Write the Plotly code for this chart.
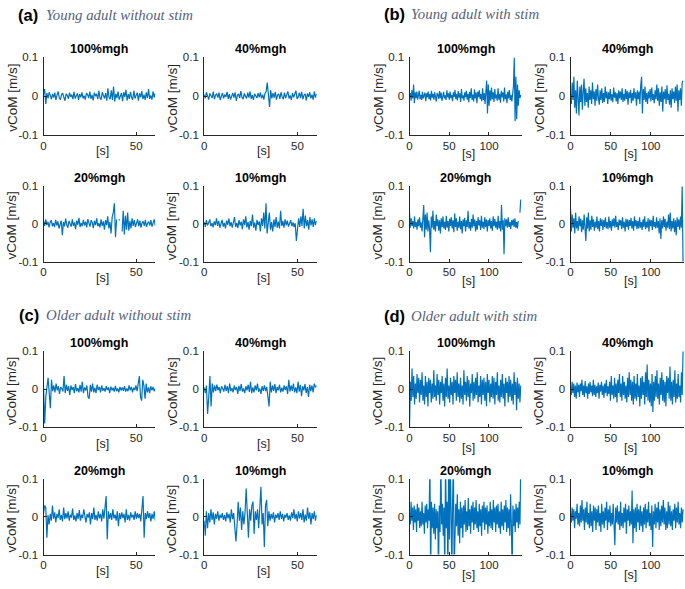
import numpy as np
import plotly.graph_objects as go

W, H = 685, 589

GROUP_LABELS = ["(a)", "(b)", "(c)", "(d)"]
GROUP_TITLES = ["Young adult without stim", "Young adult with stim",
                "Older adult without stim", "Older adult with stim"]
CONDITIONS = ["100%mgh", "40%mgh", "20%mgh", "10%mgh"]
DURATION_S = [60.3, 140, 60.3, 140]
X_MAX = [60.3, 141.2, 60.3, 141.2]
X_TICKS = [[0, 50], [0, 50, 100], [0, 50], [0, 50, 100]]
Y_TICKS = [-0.1, 0, 0.1]
Y_TICKTEXT = ["-0.1", "0", "0.1"]
X_LABEL = "[s]"
Y_LABEL = "vCoM [m/s]"

# vCoM values, in mm/s (None = gap in the record)
a_100 = [5,18,-20,8,-6,10,2,-8,6,-4,9,-10,3,12,-5,-9,4,8,-3,-12,6,2,-7,9,-2,4,-8,11,-6,3,7,-10,5,-3,10,-6,1,-9,8,4,-5,12,-7,3,-11,9,0,6,-8,14,-4,-9,10,2,-6,8,-12,20,-3,-8,15,-10,25,-14,6,-5,12,-9,3,8,-13,10,-2,16,-11,5,-7,11,-4,-9,14,-6,2,9,-12,7,-3,13,-8,4,-10,10,-5,18,-7,2,-9,12,-4,8]
a_40 = [4,-6,10,-3,-9,7,2,-5,12,-8,3,6,-4,9,-10,1,8,-6,4,-2,11,-7,5,-9,3,8,-4,10,-12,2,6,-5,13,-3,-8,7,0,-6,9,-4,12,-7,3,-10,6,2,-5,8,-3,10,-6,4,-9,7,12,35,-10,-28,15,-6,8,-4,11,-9,3,6,-7,10,-2,-8,9,-5,4,12,-6,2,-10,8,-3,5,14,-7,-2,9,-5,11,-8,3,6,-11,7,-2,10,-6,4,-9,12,-4,6]
a_20 = [8,-5,12,-3,6,-9,4,10,-6,2,-8,11,-4,7,-12,3,9,-30,5,-6,14,-3,-10,8,2,-7,12,-5,4,-14,9,-2,16,-8,3,-6,11,-4,6,-9,13,-2,-7,10,4,-11,8,-3,15,-6,2,-9,12,-5,7,-15,10,-3,20,-12,5,-25,18,30,55,-35,12,None,10,12,None,-20,35,-28,22,-15,30,-18,8,-12,15,-5,10,-8,4,12,-6,9,-10,3,7,-5,11,-8,2,6,-4,10,-7,3,12,-5]
a_10 = [5,-8,10,-4,3,12,-6,2,-9,7,-3,15,-5,8,-10,4,11,-7,3,-12,9,-2,14,-6,5,-10,7,18,-8,3,-11,10,-4,6,-14,12,-3,20,-9,5,-15,8,-6,25,-10,4,-18,11,-3,7,-20,15,-5,30,-12,55,-25,10,30,-15,5,-20,12,-8,18,-10,6,-12,35,-5,8,-10,12,-4,9,-7,3,10,-6,4,-8,2,-45,-10,15,-8,20,-5,40,-12,22,-6,10,-15,18,-4,12,-8,15,-3,8]

b_100 = [0,8,-12,15,-6,30,-18,10,-5,12,-9,4,14,-8,3,-10,11,-6,2,9,-13,7,-3,12,-8,5,-11,14,-4,6,-9,10,-2,-14,8,3,-7,13,-5,9,-12,4,11,-6,2,-10,15,-3,7,-9,12,-5,3,-13,10,-2,16,-8,5,-11,13,-4,7,-15,18,-6,2,-12,10,-3,14,-9,6,-16,11,-5,20,-10,4,-14,17,-6,9,-18,12,-3,15,-8,5,-13,20,-10,8,-20,25,40,-45,30,-25,15,-12,22,-8,10,-15,18,-6,4,-12,20,-9,6,-17,14,-3,10,-14,22,-8,5,-18,12,-6,16,-10,3,-14,8,25,100,-65,50,-60,30,-25,15,-5,3]
b_40 = [5,-20,35,-10,50,-30,15,-45,40,-20,-50,25,-15,30,-35,10,45,-25,20,-15,8,-30,25,-10,15,-20,35,-8,12,-25,18,-12,30,-5,-22,15,-10,20,-18,8,-15,25,-6,12,-20,10,-8,18,-12,5,-16,22,-4,10,-14,8,-20,15,-6,12,-10,20,-15,6,-12,18,-8,14,-22,10,-5,16,-18,8,-12,20,-6,10,-25,15,-8,12,-20,28,50,-45,18,-10,25,-15,8,-20,12,-6,18,-14,22,-10,5,-18,15,-8,30,-12,20,-25,10,-15,25,-40,12,-8,18,-20,28,-10,6,-22,15,-30,20,-8,12,-18,25,-12,30,-40,15,-10,20,-25,35,40]
b_20 = [30,-10,15,-5,8,-12,20,-8,5,-15,12,-6,18,-10,4,-20,15,50,-35,25,-15,30,-20,10,-12,-75,20,-10,35,-15,8,-20,25,-6,12,-18,10,-25,15,-8,20,-12,6,-16,22,-10,8,-20,14,-5,18,-12,10,-22,28,-8,15,-18,6,-10,20,-14,8,-25,12,-6,16,-20,10,-8,35,-12,5,-18,14,-10,25,-6,12,-20,8,-15,18,-4,10,-16,22,-10,6,-14,18,-8,12,-20,10,-5,15,-12,8,-18,20,-6,14,-10,6,-15,22,-12,8,-20,50,-15,10,-80,15,-6,12,-10,18,-8,5,-14,10,-4,12,-8,15,-10,5,-12,8,None,30,65]
b_10 = [40,-20,25,-10,15,-25,30,-12,8,-18,20,-6,14,-22,10,-15,25,-8,-45,18,-12,30,-20,10,-15,22,-8,12,-18,6,-10,20,-14,8,-20,15,-5,12,-16,10,-8,18,-12,5,-14,20,-10,8,-18,12,-6,15,-10,22,-8,5,-16,12,-4,10,-14,18,-10,6,-20,14,-8,12,-15,10,-5,16,-12,8,-18,20,-6,10,-14,8,-12,18,-10,5,-16,12,-8,20,-14,6,-10,15,-20,12,-6,10,-16,22,-8,5,-12,18,-10,8,-25,15,-40,10,-12,20,-8,14,-18,6,-10,25,-14,30,-20,8,-12,15,-22,10,-30,18,-8,12,-15,20,-10,100,-100]

c_100 = [5,-90,-20,15,30,-10,-50,25,-5,10,-8,15,-3,8,-12,6,2,-6,35,-10,12,-4,8,-15,10,-2,6,-10,14,-5,3,-8,12,-6,20,-10,5,-3,10,-20,-25,12,-6,15,-8,4,-10,12,-2,6,-8,10,-4,3,-6,8,-2,5,-10,7,-3,4,-6,9,-5,2,-8,6,-3,5,-4,8,-6,2,-5,10,-3,6,-8,4,-2,10,-5,15,35,-20,-30,25,10,-25,15,-8,5,-10,8,-3,6,-5,2]
c_40 = [5,-10,10,-65,-20,35,-45,15,-8,10,-5,12,-3,6,-10,8,2,-6,12,-4,8,-10,15,-5,3,-8,10,-2,6,-12,9,-4,14,-6,2,-10,8,-3,12,-7,20,-10,5,-8,10,-3,15,-6,2,-12,8,-4,10,-5,6,-15,-45,20,-8,10,-4,14,-10,6,-3,12,-8,4,-6,10,-2,8,-12,25,-6,10,-4,15,-8,5,-10,20,-6,12,-18,8,-3,14,-10,6,-20,12,-5,10,-8,15,5,10]
c_20 = [10,30,25,-55,5,-20,8,-10,30,-5,12,-15,8,-3,20,-8,5,-12,25,-6,10,-4,15,-10,6,-2,22,-8,4,-12,10,-5,18,-10,6,-3,20,-4,-15,8,-2,12,-20,10,-6,25,-8,5,-10,15,-4,8,-12,20,-5,25,55,-60,15,-5,10,-8,20,-4,6,-10,15,-25,10,-6,12,-3,8,-15,20,-8,5,-10,12,-2,6,-8,15,-5,10,-3,8,-12,18,55,-55,10,-6,15,-3,10,-12,8,-5,15,-10]
c_10 = [-10,-50,15,-30,10,-15,20,-8,12,-20,8,-5,15,-10,6,-3,10,-8,5,-12,12,-4,8,-15,20,-6,10,-25,-65,-20,40,-10,25,-35,15,-20,10,75,5,-55,20,-10,30,40,-45,15,-8,20,-30,35,80,-20,10,-80,30,45,-25,15,-10,8,-5,12,-15,6,-3,10,-8,15,-5,8,-12,6,-2,10,-8,4,-10,12,-3,20,-6,8,-12,15,-4,10,-8,20,-15,6,-10,25,-5,12,-20,10,-6,15,-10,5]

d_100 = [-100,20,-30,55,-20,35,-40,15,-25,40,-10,30,-35,25,-15,45,-30,10,-40,35,-20,20,-45,30,-10,25,-35,15,-25,50,-20,10,-30,40,-15,25,-40,20,-10,35,-30,15,-45,30,-20,55,-25,10,-35,30,-15,20,-40,35,-10,25,-30,45,-20,15,-35,30,-25,10,-40,50,-15,20,-30,35,-20,25,-45,15,-10,40,-30,20,-25,30,-15,45,-35,10,-20,35,-40,25,-15,30,-30,20,-45,40,-10,25,-35,15,-20,35,-25,30,-40,20,-15,45,-30,10,-35,25,-20,40,-25,15,-45,30,-10,20,-35,35,-20,25,-30,15,-40,45,-15,20,-55,30,-25,15,-35,10]
d_40 = [5,-15,20,-10,15,-20,10,-25,18,-8,12,-20,15,-5,25,-15,10,-20,22,-10,8,-25,15,-12,20,-8,10,-18,25,-15,12,-20,8,-10,18,-25,12,-6,20,-15,10,-22,15,-10,25,-18,8,-12,20,-30,35,-15,10,-25,30,-20,15,-35,25,-10,40,-20,15,-30,35,-15,20,-25,10,-35,30,-20,45,-15,25,-30,20,-40,35,-25,15,-30,40,-20,10,-45,30,-25,35,-15,20,-40,45,-20,65,-30,25,-35,15,-45,40,-60,20,-30,35,-20,50,-25,15,-40,30,-15,45,-30,25,-35,20,-45,35,-10,30,-25,60,-30,20,-40,25,-20,50,-35,15,-25,40,-20,10,-35,45,-15,100]
d_20 = [10,-20,40,-10,25,-35,30,-15,20,-40,35,-10,25,-30,15,-25,40,-20,10,-45,30,-15,35,-30,20,-10,150,-150,40,-30,25,-45,35,-60,20,-30,15,-150,30,-40,150,-20,35,-50,25,-150,150,-30,40,-150,150,-60,150,20,-150,40,150,-150,-40,35,-25,60,-50,20,-70,40,-30,25,-55,30,-20,45,-40,15,-35,50,-25,20,-45,30,-15,40,-35,25,-20,45,-30,15,-40,35,-25,20,-50,30,-15,40,-35,25,-20,30,-45,15,-25,40,-30,20,-35,45,-15,25,-40,30,-20,35,-30,15,-45,40,-25,20,-35,30,-15,45,-40,25,-30,20,-50,60,-20,-150,30,-25,20,-40,35,-15,25,-30,40,-20,150]
d_10 = [10,-15,25,-10,20,-30,15,-5,35,-20,10,-25,30,-15,45,-10,20,-35,25,-15,40,-20,10,-30,35,-25,15,-40,30,-10,25,-35,20,-15,30,-25,10,-40,35,-20,15,-30,25,-10,40,-35,20,-15,30,-25,10,-20,35,-40,-75,25,-15,30,-20,15,-35,40,-25,10,-30,25,-15,35,-45,20,-10,30,-25,15,-20,70,-70,20,-30,25,-40,35,-15,20,-35,30,-25,15,-40,25,-20,35,-30,20,-15,40,-25,10,-35,30,-80,15,-20,35,-30,25,-15,40,-35,20,-25,30,-15,45,-20,25,-35,15,-30,40,-20,30,-25,15,-35,20,-10,35,-30,25,-15,40,-20,10,-30,25,-15,20]

SERIES = [[a_100, a_40, a_20, a_10],
          [b_100, b_40, b_20, b_10],
          [c_100, c_40, c_20, c_10],
          [d_100, d_40, d_20, d_10]]

# layout (pixels)
COLS = [(40.7, 153), (202, 315), (408.3, 521), (570, 684)]
ROWS = [(52.5, 131.5), (184, 261), (352.5, 430), (483, 560)]
GROUP_POS = [(13, 9.5, 41), (381, 8.5, 408), (14, 315, 41), (381, 316, 408)]
XLABEL_DY = [17, 20, 17, 21]

LINE_COLOR = "#0072BD"
AX_COLOR = "#262626"
FONT = "Liberation Sans"
SERIF = "Liberation Serif, Times New Roman, Times, serif"

fig = go.Figure()
layout = dict(width=W, height=H, margin=dict(l=0, r=0, t=0, b=0),
              paper_bgcolor="white", plot_bgcolor="white", showlegend=False)
annotations = []

def px(x):
    return x / W

def py(y):
    return 1 - y / H

k = 0
for g in range(4):
    coff = 0 if g in (0, 2) else 2
    roff = 0 if g < 2 else 2
    gx, gy, tx = GROUP_POS[g]
    annotations.append(dict(text="<b>" + GROUP_LABELS[g] + "</b>", x=px(gx), y=py(gy),
                            xref="paper", yref="paper", xanchor="left", yanchor="middle",
                            showarrow=False, font=dict(family=FONT, size=16.5, color="black")))
    annotations.append(dict(text="<i>" + GROUP_TITLES[g] + "</i>", x=px(tx), y=py(gy),
                            xref="paper", yref="paper", xanchor="left", yanchor="middle",
                            showarrow=False, font=dict(family=SERIF, size=14.8, color="#56627f")))
    for p in range(4):
        k += 1
        c = coff + p % 2
        r = roff + p // 2
        l, rr = COLS[c]
        top, bot = ROWS[r]
        vals = np.array(SERIES[g][p], dtype=float) / 1000.0
        t = np.linspace(0, DURATION_S[g], len(vals))
        xa = "x" if k == 1 else f"x{k}"
        ya = "y" if k == 1 else f"y{k}"
        fig.add_trace(go.Scatter(x=t, y=vals, mode="lines", xaxis=xa, yaxis=ya,
                                 line=dict(color=LINE_COLOR, width=1.2), hoverinfo="skip"))
        axfont = dict(family=FONT, size=11.5, color=AX_COLOR)
        layout["xaxis" if k == 1 else f"xaxis{k}"] = dict(
            domain=[px(l), px(rr)], range=[0, X_MAX[g]], anchor=ya,
            showline=True, linecolor=AX_COLOR, linewidth=1, mirror=False,
            ticks="inside", ticklen=3, tickcolor=AX_COLOR, tickvals=X_TICKS[g],
            showgrid=False, zeroline=False, tickfont=axfont, ticklabelstandoff=0)
        layout["yaxis" if k == 1 else f"yaxis{k}"] = dict(
            domain=[py(bot), py(top)], range=[-0.1, 0.1], anchor=xa,
            showline=True, linecolor=AX_COLOR, linewidth=1,
            ticks="inside", ticklen=3, tickcolor=AX_COLOR,
            tickvals=Y_TICKS, ticktext=Y_TICKTEXT,
            showgrid=False, zeroline=False, tickfont=axfont, ticklabelstandoff=2)
        annotations.append(dict(text="<b>" + CONDITIONS[p] + "</b>", x=px((l + rr) / 2),
                                y=py(top - 8.5), xref="paper", yref="paper",
                                xanchor="center", yanchor="middle", showarrow=False,
                                font=dict(family=FONT, size=12.5, color="black")))
        annotations.append(dict(text=Y_LABEL, x=px(l - 32), y=py((top + bot) / 2 + 2),
                                xref="paper", yref="paper", textangle=-90,
                                xanchor="center", yanchor="middle", showarrow=False,
                                font=dict(family=FONT, size=13.5, color=AX_COLOR)))
        annotations.append(dict(text=X_LABEL, x=px((l + rr) / 2 + 3), y=py(bot + XLABEL_DY[g]),
                                xref="paper", yref="paper",
                                xanchor="center", yanchor="middle", showarrow=False,
                                font=dict(family=FONT, size=12.5, color=AX_COLOR)))

layout["annotations"] = annotations
fig.update_layout(**layout)
fig.write_html("out.html", config={"displayModeBar": False},
               post_script="document.body.style.margin='0';document.body.style.overflow='hidden';")
